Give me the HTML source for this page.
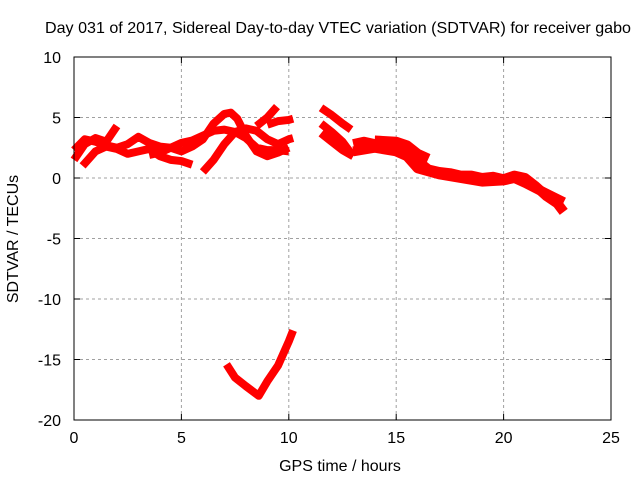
<!DOCTYPE html>
<html><head><meta charset="utf-8"><style>
body{margin:0;background:#fff}
svg{display:block;font-family:"Liberation Sans",sans-serif;font-size:16px}
</style></head><body>
<svg id="c" width="640" height="480">
<text x="338" y="33" text-anchor="middle" textLength="586" lengthAdjust="spacingAndGlyphs">Day 031 of 2017, Sidereal Day-to-day VTEC variation (SDTVAR) for receiver gabo</text>
<text x="340" y="471" text-anchor="middle">GPS time / hours</text>
<text transform="translate(18,239) rotate(-90)" text-anchor="middle">SDTVAR / TECUs</text>
<g id="grid"></g><g id="marks"></g>
<rect x="74" y="57" width="537" height="363" fill="none" stroke="#000"/>
</svg>
<script>
const xTicks=[0,5,10,15,20,25];
const yTicks=[10,5,0,-5,-10,-15,-20];
const s1=[[0,1.5],[0.5,2.8],[1,3.3],[1.5,3.0],[2,4.3]];
const s2=[[0,2.3],[0.5,3.2],[1,3.0],[1.5,2.7],[2,2.5],[2.5,2.8],[3,3.4],[3.5,2.9],[4,2.6],[4.5,2.5],[5,2.9],[5.5,3.1],[6,3.5],[6.5,3.9],[7,4.0],[7.5,3.8],[8,3.3],[8.5,2.5],[9,2.3],[9.5,2.3],[10,2.2]];
const s3=[[0.4,1.0],[1,2.2],[1.5,2.6],[2,2.4],[2.5,2.0],[3,2.2],[3.5,2.4],[4,1.8],[4.5,1.5],[5,1.4],[5.5,1.1]];
const s4=[[3.5,1.9],[4,2.1],[4.5,2.5],[5,2.2],[5.5,2.6],[6,3.2],[6.5,4.5],[7,5.3],[7.3,5.4],[7.6,4.9],[8,3.5],[8.5,2.2],[9,1.8],[9.5,2.1],[10,2.5]];
const s5=[[6,0.5],[6.5,1.5],[7,2.8],[7.5,3.8],[8,4.1],[8.5,3.9],[9,3.2],[9.5,2.8],[10,3.2],[10.2,3.3]];
const s6=[[8.5,4.3],[9,5.0],[9.45,5.9]];
const s7=[[9,4.4],[9.5,4.7],[10,4.8],[10.2,4.9]];
const s8=[[7.1,-15.4],[7.5,-16.5],[8,-17.2],[8.6,-18.0],[9,-16.8],[9.5,-15.5],[10,-13.5],[10.2,-12.6]];
const s9=[[11.5,5.8],[12,5.2],[12.5,4.5],[12.9,4.0]];
const s10=[[11.5,4.5],[12,3.8],[12.5,3.0],[13,1.8]];
const s11=[[11.5,3.7],[12,3.0],[12.5,2.3],[13,1.8]];
const s12=[[13,2.8],[13.5,3.0],[14,2.8],[14.5,2.7],[15,2.7],[15.5,2.3],[16,1.4],[16.5,0.7],[17,0.5],[17.5,0.4],[18,0.2],[18.5,0.2],[19,0.0],[19.5,0.1],[20,-0.1],[20.5,0.2],[21,0.0],[21.5,-0.7],[22,-1.5],[22.5,-2.1],[22.8,-2.8]];
const s13=[[13,2.2],[14,2.5],[15,2.2],[15.5,1.8],[16,0.8],[17,0.3],[18,0.0],[19,-0.3],[20,-0.2],[20.5,0.0],[21,-0.4],[22,-1.3],[22.8,-2.0]];
const s14=[[14,3.1],[15,3.0],[15.5,2.7],[16,2.0],[16.5,1.6]];
const series=[s1,s2,s3,s4,s5,s6,s7,s8,s9,s10,s11,s12,s13,s14];
const X=t=>74+t*537/25, Y=v=>57+(10-v)*363/30;
const NS="http://www.w3.org/2000/svg";
const grid=document.getElementById('grid'), marks=document.getElementById('marks'), svg=document.getElementById('c');
xTicks.forEach(t=>{
  if(t>0&&t<25){const l=document.createElementNS(NS,'line');l.setAttribute('x1',X(t));l.setAttribute('x2',X(t));l.setAttribute('y1',57);l.setAttribute('y2',420);l.setAttribute('stroke','#a0a0a0');l.setAttribute('stroke-dasharray','3,3');
  
  grid.appendChild(l);}
  const tk=document.createElementNS(NS,'path');tk.setAttribute('d',`M${X(t)},420v-6M${X(t)},57v6`);tk.setAttribute('stroke','#000');
  
  grid.appendChild(tk);
  const tx=document.createElementNS(NS,'text');tx.setAttribute('x',X(t));tx.setAttribute('y',443);tx.setAttribute('text-anchor','middle');tx.textContent=t;
  
  svg.appendChild(tx);
});
yTicks.forEach(v=>{
  if(v>-20&&v<10){const l=document.createElementNS(NS,'line');l.setAttribute('x1',74);l.setAttribute('x2',611);l.setAttribute('y1',Y(v));l.setAttribute('y2',Y(v));l.setAttribute('stroke','#a0a0a0');l.setAttribute('stroke-dasharray','3,3');
  
  grid.appendChild(l);}
  const tk=document.createElementNS(NS,'path');tk.setAttribute('d',`M74,${Y(v)}h6M611,${Y(v)}h-6`);tk.setAttribute('stroke','#000');
  
  grid.appendChild(tk);
  const tx=document.createElementNS(NS,'text');tx.setAttribute('x',61);tx.setAttribute('y',Y(v)+6);tx.setAttribute('text-anchor','end');tx.textContent=v;
  
  svg.appendChild(tx);
});
series.forEach((s,i)=>{
  const p=document.createElementNS(NS,'polyline');
  p.setAttribute('points',s.map(d=>X(d[0])+','+Y(d[1])).join(' '));
  p.setAttribute('fill','none');p.setAttribute('stroke','#ff0000');p.setAttribute('stroke-width',i>=11?'10':'8');p.setAttribute('stroke-linejoin','round');
  
  
  marks.appendChild(p);
});
</script>
</body></html>
